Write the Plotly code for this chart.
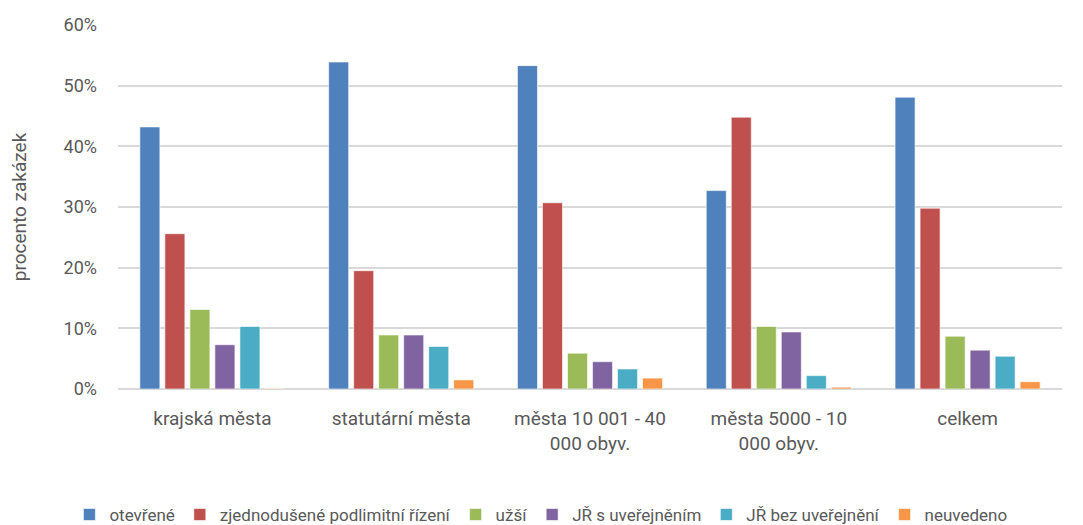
import plotly.graph_objects as go

categories = ["krajská města", "statutární města", "města 10 001 - 40<br>000 obyv.",
              "města 5000 - 10<br>000 obyv.", "celkem"]
series_names = ["otevřené", "zjednodušené podlimitní řízení", "užší",
                "JŘ s uveřejněním", "JŘ bez uveřejnění", "neuvedeno"]
otevrene = [43.2, 53.9, 53.3, 32.7, 48.1]
zjednodusene = [25.6, 19.5, 30.7, 44.8, 29.8]
uzsi = [13.1, 8.9, 5.9, 10.3, 8.7]
jr_s = [7.3, 8.9, 4.5, 9.4, 6.4]
jr_bez = [10.3, 7.0, 3.3, 2.2, 5.4]
neuvedeno = [0.1, 1.5, 1.8, 0.3, 1.2]
colors = ["#4f81bd", "#c0504d", "#9bbb59", "#8064a2", "#4bacc6", "#f79646"]
y_ticks = [0, 10, 20, 30, 40, 50, 60]

font_family = "Roboto, Open Sans, sans-serif"
fig = go.Figure()
for name, vals, col in zip(series_names,
                           [otevrene, zjednodusene, uzsi, jr_s, jr_bez, neuvedeno],
                           colors):
    fig.add_trace(go.Bar(x=categories, y=[v / 100 for v in vals], name=name,
                         marker=dict(color=col, line=dict(color="rgba(255,255,255,0.6)", width=1))))

fig.update_layout(
    width=1083, height=525,
    margin=dict(l=110, r=29, t=17, b=144, autoexpand=False),
    paper_bgcolor="white", plot_bgcolor="white",
    barmode="group", bargap=0.205, bargroupgap=0.2,
    font=dict(family=font_family, size=17, color="#595959"),
    showlegend=True,
    legend=dict(orientation="h", x=0.448, xanchor="center",
                y=-0.346, yanchor="middle",
                font=dict(size=17, color="#595959"), itemwidth=30,
                tracegroupgap=0, traceorder="normal"),
    xaxis=dict(showgrid=False, showline=False, ticks="", tickfont=dict(size=19),
               ticklabelstandoff=16),
    yaxis=dict(range=[0, 0.6], tickvals=[t / 100 for t in y_ticks], tickformat=".0%",
               gridcolor="#d9d9d9", gridwidth=1.5, zeroline=True, zerolinecolor="#d9d9d9",
               zerolinewidth=1.5, ticks="", ticklabelstandoff=20, tickfont=dict(size=18),
               title=dict(text="procento zakázek", font=dict(size=19, color="#595959"),
                          standoff=36)),
)
fig.write_html("out.html")
